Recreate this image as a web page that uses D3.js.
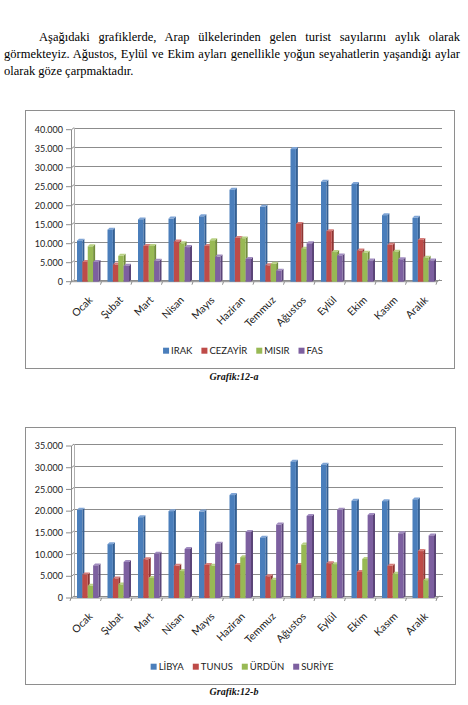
<!DOCTYPE html>
<html>
<head>
<meta charset="utf-8">
<script src="https://cdn.jsdelivr.net/npm/d3@7"></script>
<style>
    body { margin: 0; background: #fff; width: 468px; height: 705px; overflow: hidden; position: relative; }
    .para {
        position: absolute; left: 4px; width: 456px;
        font: 12.5px 'Liberation Serif', serif; line-height: 17px; color: #000;
        text-align: justify; text-align-last: justify;
    }
    #chart { position: absolute; left: 0; top: 0; }
</style>
</head>
<body>
<div class="para" style="top:29px; padding-left:35px; width:421px;">Aşağıdaki grafiklerde, Arap ülkelerinden gelen turist sayılarını aylık olarak</div>
<div class="para" style="top:46px;">görmekteyiz. Ağustos, Eylül ve Ekim ayları genellikle yoğun seyahatlerin yaşandığı aylar</div>
<div class="para" style="top:63px; text-align-last:left;">olarak göze çarpmaktadır.</div>
<svg id="chart" width="468" height="705"></svg>
<script>
// Monthly tourist arrivals from Arab countries (Grafik 12-a and 12-b)
const months = ['Ocak', 'Şubat', 'Mart', 'Nisan', 'Mayıs', 'Haziran', 'Temmuz', 'Ağustos', 'Eylül', 'Ekim', 'Kasım', 'Aralık'];

// Grafik 12-a
const namesA = ['IRAK', 'CEZAYİR', 'MISIR', 'FAS'];
const irak    = [10800, 13700, 16400, 16600, 17200, 24200, 19700, 34900, 26300, 25700, 17500, 16800];
const cezayir = [5200, 4500, 9400, 10600, 9400, 11500, 4300, 15200, 13300, 8200, 9700, 11000];
const misir   = [9300, 6800, 9400, 10100, 10900, 11400, 4700, 8700, 7800, 7600, 7900, 6300];
const fas     = [5200, 4200, 5500, 9100, 6600, 6000, 2900, 10100, 6900, 5600, 5900, 5600];
const ticksA  = [0, 5000, 10000, 15000, 20000, 25000, 30000, 35000, 40000];

// Grafik 12-b
const namesB = ['LİBYA', 'TUNUS', 'ÜRDÜN', 'SURİYE'];
const libya  = [20300, 12400, 18600, 20000, 19900, 23700, 13900, 31400, 30700, 22400, 22300, 22700];
const tunus  = [5400, 4500, 8900, 7400, 7600, 7600, 5000, 7600, 8000, 6000, 7400, 10800];
const urdun  = [2800, 3100, 4600, 6200, 7400, 9400, 4200, 12300, 7800, 9000, 5600, 4100];
const suriye = [7500, 8300, 10200, 11300, 12500, 15200, 16900, 18900, 20300, 19100, 14900, 14400];
const ticksB = [0, 5000, 10000, 15000, 20000, 25000, 30000, 35000];

// front / side / top face colours of the 3D columns
const faces = [
    { front: '#4A7EBB', side: '#345F92', top: '#7EA4D6' },
    { front: '#BE4B48', side: '#8E3533', top: '#D67D7A' },
    { front: '#98B954', side: '#718C3C', top: '#B8D183' },
    { front: '#7D60A0', side: '#5B4578', top: '#A18CC0' }
];

const svg = d3.select('#chart');
const axisColor = '#8c8c8c';
const labelFont = 'Lato, "Liberation Sans", sans-serif';

function drawChart(cfg) {
    const g = svg.append('g');
    const dx = 3, dy = 2;   // depth offset of the back wall

    // chart area border
    g.append('rect')
        .attr('x', cfg.frame[0] + 0.5).attr('y', cfg.frame[1] + 0.5)
        .attr('width', cfg.frame[2]).attr('height', cfg.frame[3])
        .attr('fill', '#fff').attr('stroke', '#8e8e8e').attr('stroke-width', 1);

    const x = d3.scaleBand().domain(months).range([71, 437]);
    const x1 = d3.scaleBand().domain(cfg.names).range([6, 27.5]);
    const y = d3.scaleLinear().domain([0, d3.max(cfg.ticks)]).range([cfg.y0, cfg.yTop]);

    // back wall gridlines
    g.selectAll('.grid')
        .data(cfg.ticks)
        .enter()
        .append('line')
        .attr('x1', 71 + dx).attr('x2', cfg.wallRight)
        .attr('y1', d => Math.round(y(d) - dy) + 0.5).attr('y2', d => Math.round(y(d) - dy) + 0.5)
        .attr('stroke', axisColor).attr('stroke-width', 1);

    // back wall left edge and front value axis
    g.append('line')
        .attr('x1', 71 + dx + 0.5).attr('x2', 71 + dx + 0.5)
        .attr('y1', y(0) - dy).attr('y2', y(d3.max(cfg.ticks)) - dy)
        .attr('stroke', '#b0b0b0');
    g.append('line')
        .attr('x1', 71.5).attr('x2', 71.5)
        .attr('y1', y(0)).attr('y2', y(d3.max(cfg.ticks)))
        .attr('stroke', axisColor);

    // value ticks (with little diagonal to the wall)
    cfg.ticks.forEach(t => {
        g.append('path')
            .attr('d', `M66,${y(t)}L71.5,${y(t)}L${71 + dx},${y(t) - dy}`)
            .attr('fill', 'none').attr('stroke', axisColor);
    });

    // value labels
    g.selectAll('.ylab')
        .data(cfg.ticks)
        .enter()
        .append('text')
        .attr('x', 63)
        .attr('y', d => y(d))
        .attr('dy', '0.35em')
        .attr('text-anchor', 'end')
        .style('font-family', labelFont)
        .style('font-size', '9px')
        .style('fill', '#222')
        .text(d => d3.format(',')(d).replace(/,/g, '.'));

    // floor front edge and category ticks
    g.append('path')
        .attr('d', `M71.5,${cfg.y0}L437,${cfg.y0}L${437 + dx},${cfg.y0 - dy}`)
        .attr('fill', 'none').attr('stroke', axisColor);
    months.concat(['end']).forEach((m, i) => {
        const bx = 71 + i * x.step();
        g.append('line')
            .attr('x1', bx).attr('x2', bx - 1)
            .attr('y1', cfg.y0).attr('y2', cfg.y0 + 3)
            .attr('stroke', axisColor);
    });

    // 3D columns
    months.forEach((m, i) => {
        cfg.series.forEach((s, j) => {
            const bw = x1.bandwidth();
            const x0 = x(m) + x1(cfg.names[j]);
            const yt = y(s[i]);
            const yb = cfg.y0;
            const f = faces[j];
            g.append('polygon')
                .attr('points', [[x0 + bw, yt], [x0 + bw + 2, yt - 2], [x0 + bw + 2, yb - 2], [x0 + bw, yb]].join(' '))
                .attr('fill', f.side);
            g.append('polygon')
                .attr('points', [[x0, yt], [x0 + 2, yt - 2], [x0 + bw + 2, yt - 2], [x0 + bw, yt]].join(' '))
                .attr('fill', f.top);
            g.append('rect')
                .attr('x', x0).attr('y', yt)
                .attr('width', bw).attr('height', yb - yt)
                .attr('fill', f.front);
        });
    });

    // month labels
    g.selectAll('.xlab')
        .data(months)
        .enter()
        .append('text')
        .attr('transform', d => `translate(${x(d) + x.bandwidth() / 2 + 7},${cfg.y0 + 19}) rotate(-45)`)
        .attr('text-anchor', 'end')
        .style('font-family', labelFont)
        .style('font-size', '10.5px')
        .style('fill', '#222')
        .text(d => d);

    // legend
    const leg = g.append('g');
    let lx = 0;
    cfg.names.forEach((n, j) => {
        leg.append('rect')
            .attr('x', lx).attr('y', -3)
            .attr('width', 6).attr('height', 6)
            .attr('fill', faces[j].front);
        const t = leg.append('text')
            .attr('x', lx + 8).attr('y', 0)
            .attr('dy', '0.35em')
            .style('font-family', labelFont)
            .style('font-size', '9.5px')
            .style('fill', '#222')
            .text(n);
        lx += 8 + t.node().getComputedTextLength() + 9;
    });
    lx -= 9;
    leg.attr('transform', `translate(${cfg.legendCx - lx / 2},${cfg.legendY})`);

    // caption under the chart
    svg.append('text')
        .attr('x', 234).attr('y', cfg.captionY)
        .attr('text-anchor', 'middle')
        .style('font-family', '"Liberation Serif", serif')
        .style('font-size', '10px')
        .style('font-weight', 'bold')
        .style('font-style', 'italic')
        .style('fill', '#111')
        .text(cfg.caption);
}

drawChart({
    frame: [25, 110, 429, 258],
    names: namesA,
    series: [irak, cezayir, misir, fas],
    ticks: ticksA,
    y0: 281.7, yTop: 129.7, wallRight: 442,
    legendCx: 243, legendY: 350.7,
    caption: 'Grafik:12-a', captionY: 379.5
});

drawChart({
    frame: [25, 427, 430, 257],
    names: namesB,
    series: [libya, tunus, urdun, suriye],
    ticks: ticksB,
    y0: 598, yTop: 446, wallRight: 443,
    legendCx: 242, legendY: 666.7,
    caption: 'Grafik:12-b', captionY: 694.5
});
</script>
</body>
</html>
